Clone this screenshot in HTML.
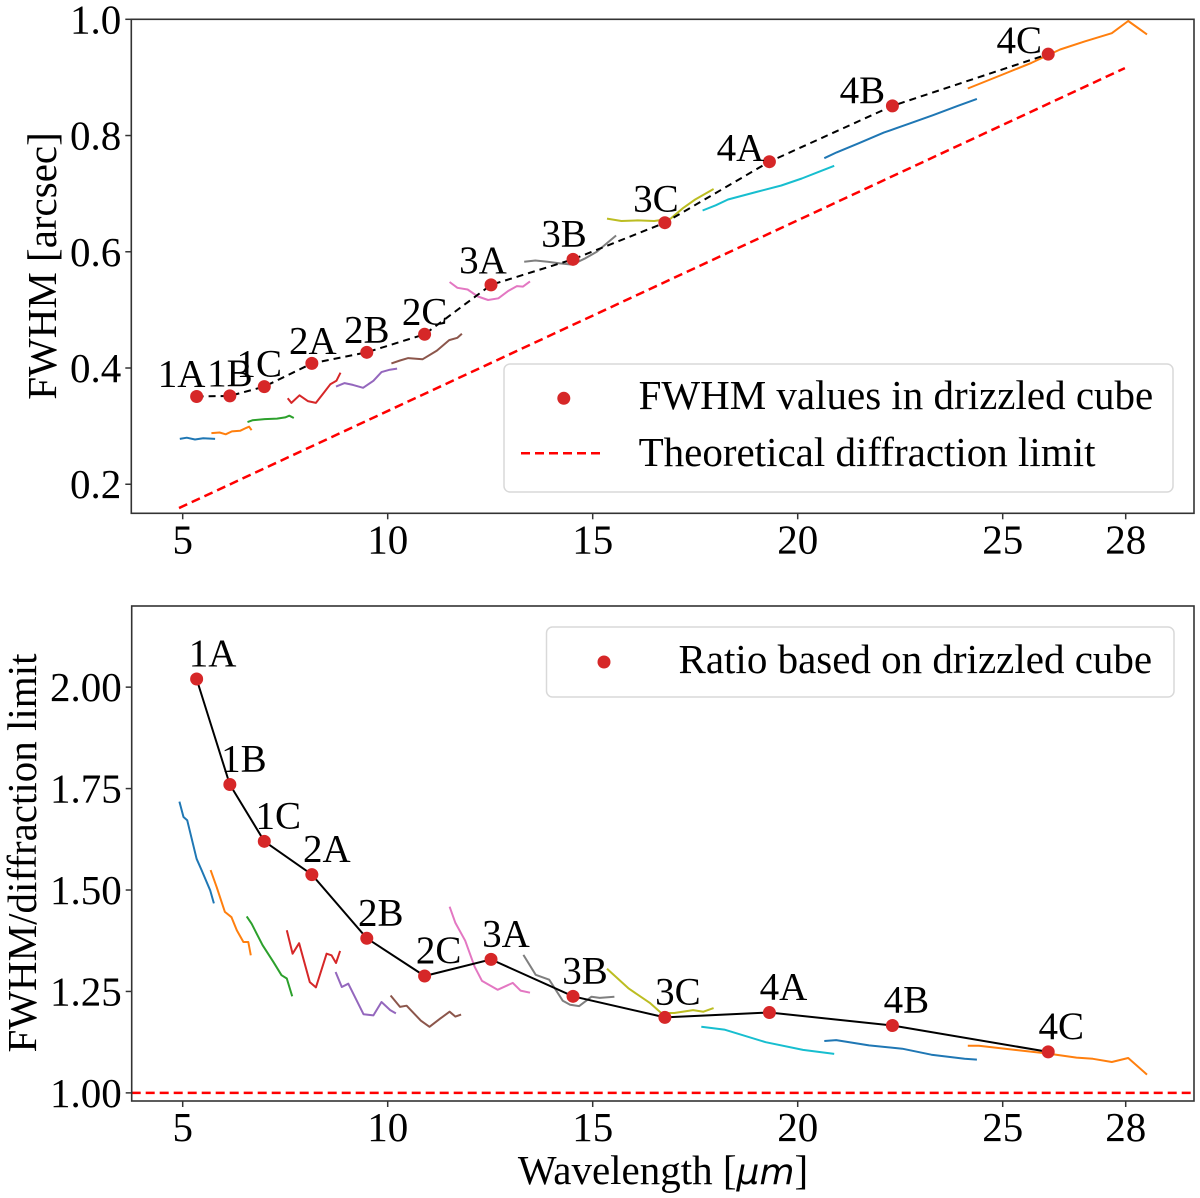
<!DOCTYPE html>
<html><head><meta charset="utf-8">
<style>
html,body{margin:0;padding:0;background:#fff;}
svg{display:block;font-family:"Liberation Serif","DejaVu Serif",serif;}
</style></head>
<body>
<svg id="chart" width="1200" height="1198" viewBox="0 0 1200 1198" xmlns="http://www.w3.org/2000/svg">
<g id="top"></g>
<g id="bot"></g>
</svg>
<script>
// ---- data ----
const channelNames = ["1A","1B","1C","2A","2B","2C","3A","3B","3C","4A","4B","4C"];
const channelWave = [5.34,6.15,6.99,8.15,9.49,10.90,12.52,14.52,16.76,19.31,22.31,26.11];
const fwhmValues = [0.351,0.352,0.368,0.408,0.427,0.458,0.543,0.587,0.650,0.755,0.851,0.940];
const ratioValues = [2.02,1.76,1.62,1.538,1.381,1.288,1.329,1.238,1.186,1.198,1.166,1.101];
const limitWave = [4.91,27.98];
const limitFwhm = [0.159,0.916];
const ratioLimit = [1.0];
const xTicks = [5,10,15,20,25,28];
const topYTicks = [0.2,0.4,0.6,0.8,1.0];
const topYTickLabels = ["0.2","0.4","0.6","0.8","1.0"];
const botYTicks = [1.0,1.25,1.5,1.75,2.0];
const botYTickLabels = ["1.00","1.25","1.50","1.75","2.00"];
const chanColors = ["#1f77b4","#ff7f0e","#2ca02c","#d62728","#9467bd","#8c564b","#e377c2","#7f7f7f","#bcbd22","#17becf","#1f77b4","#ff7f0e"];
const topCurveX = [
 [4.93,5.1,5.3,5.5,5.79],
 [5.70,5.9,6.05,6.2,6.4,6.55,6.62,6.68],
 [6.58,6.7,7.0,7.3,7.5,7.6,7.71],
 [7.56,7.65,7.85,8.05,8.25,8.45,8.6,8.75,8.85],
 [8.74,8.95,9.15,9.4,9.65,9.85,10.05,10.23],
 [10.09,10.3,10.5,10.85,11.2,11.5,11.7,11.81],
 [11.51,11.7,11.95,12.2,12.45,12.7,12.95,13.15,13.3,13.47],
 [13.33,13.6,13.9,14.2,14.5,14.8,15.1,15.35,15.57],
 [15.35,15.7,16.1,16.5,16.9,17.2,17.5,17.95],
 [17.68,18.0,18.3,19.0,19.6,20.1,20.5,20.89],
 [20.65,20.95,21.5,22.1,22.7,23.3,23.9,24.37],
 [24.15,25.0,25.7,26.4,27.0,27.66,28.06,28.52]
];
const topCurveY = [
 [0.278,0.280,0.277,0.279,0.278],
 [0.288,0.289,0.286,0.291,0.292,0.297,0.299,0.293],
 [0.307,0.310,0.312,0.313,0.315,0.318,0.314],
 [0.348,0.340,0.353,0.343,0.340,0.358,0.372,0.378,0.392],
 [0.368,0.374,0.371,0.366,0.378,0.393,0.397,0.399],
 [0.408,0.413,0.417,0.415,0.430,0.448,0.452,0.459],
 [0.548,0.538,0.535,0.523,0.517,0.520,0.533,0.541,0.540,0.549],
 [0.583,0.585,0.583,0.580,0.578,0.588,0.600,0.615,0.628],
 [0.657,0.653,0.654,0.653,0.657,0.675,0.690,0.708],
 [0.671,0.680,0.690,0.703,0.714,0.726,0.737,0.748],
 [0.761,0.771,0.787,0.805,0.820,0.835,0.851,0.863],
 [0.881,0.905,0.925,0.948,0.962,0.976,0.997,0.974]
];
const botCurveX = [
 [4.92,5.02,5.11,5.34,5.46,5.67,5.76],
 [5.68,5.83,6.03,6.19,6.32,6.48,6.60,6.66],
 [6.56,6.68,6.95,7.21,7.41,7.54,7.67],
 [7.54,7.68,7.84,8.10,8.25,8.51,8.63,8.74,8.84],
 [8.73,8.88,9.04,9.41,9.65,9.85,10.06,10.20],
 [10.07,10.30,10.46,10.81,11.02,11.28,11.51,11.65,11.79],
 [11.51,11.65,11.89,12.12,12.30,12.68,13.05,13.24,13.47],
 [13.31,13.61,13.94,14.27,14.45,14.67,14.97,15.17,15.53],
 [15.35,15.88,16.39,16.67,16.99,17.45,17.70,17.95],
 [17.65,18.21,19.22,20.13,20.89],
 [20.65,20.94,21.74,22.55,23.26,24.07,24.37],
 [24.15,24.42,26.09,26.80,27.2,27.66,28.06,28.52]
];
const botCurveY = [
 [1.718,1.680,1.672,1.577,1.549,1.499,1.467],
 [1.549,1.507,1.446,1.433,1.401,1.372,1.372,1.339],
 [1.435,1.417,1.364,1.323,1.290,1.282,1.238],
 [1.401,1.343,1.369,1.273,1.260,1.343,1.339,1.320,1.350],
 [1.298,1.261,1.269,1.194,1.191,1.224,1.204,1.196],
 [1.240,1.212,1.215,1.178,1.163,1.183,1.200,1.188,1.193],
 [1.459,1.419,1.375,1.311,1.276,1.254,1.271,1.252,1.247],
 [1.340,1.291,1.279,1.227,1.217,1.214,1.237,1.234,1.237],
 [1.306,1.257,1.222,1.197,1.197,1.204,1.200,1.209],
 [1.163,1.156,1.125,1.106,1.096],
 [1.128,1.130,1.117,1.109,1.094,1.084,1.082],
 [1.116,1.116,1.097,1.087,1.084,1.076,1.086,1.045]
];

// ---- layout ----
const NS = "http://www.w3.org/2000/svg";
function mk(parent, tag, attrs, text){
  const e = document.createElementNS(NS, tag);
  for (const k in attrs) e.setAttribute(k, attrs[k]);
  if (text !== undefined) e.textContent = text;
  parent.appendChild(e);
  return e;
}
const X0PX = 182.7, XPU = 41;
function xs(v){ return X0PX + (v - 5) * XPU; }
const topP = {g:document.getElementById('top'), left:131.3, right:1194, top:19.3, bottom:513.3, ymin:0.15, ymax:1.0};
const botP = {g:document.getElementById('bot'), left:131.7, right:1194, top:606, bottom:1101, ymin:0.98, ymax:2.2};
function ys(p, v){ return p.bottom - (v - p.ymin) / (p.ymax - p.ymin) * (p.bottom - p.top); }

function axes(p, yt, ytl, name){
  const g = p.g;
  const clipId = name + '-clip';
  const cp = mk(g, 'clipPath', {id: clipId});
  mk(cp, 'rect', {x:p.left, y:p.top, width:p.right-p.left, height:p.bottom-p.top});
  xTicks.forEach(t => {
    const x = xs(t);
    const tk = mk(g, 'line', {x1:x, x2:x, y1:p.bottom, y2:p.bottom+6, stroke:'#333', 'stroke-width':1.5});
    
    
    const lb = mk(g, 'text', {x:x, y:p.bottom+40, 'text-anchor':'middle', 'font-size':41, fill:'#000'}, String(t));
    
    
  });
  yt.forEach((t, i) => {
    const y = ys(p, t);
    const tk = mk(g, 'line', {x1:p.left-6, x2:p.left, y1:y, y2:y, stroke:'#333', 'stroke-width':1.5});
    
    
    const lb = mk(g, 'text', {x:p.left-10, y:y+14, 'text-anchor':'end', 'font-size':41, fill:'#000'}, ytl[i]);
    
    
  });
  return 'url(#' + clipId + ')';
}
function frame(p){
  const r = mk(p.g, 'rect', {x:p.left, y:p.top, width:p.right-p.left, height:p.bottom-p.top, fill:'none', stroke:'#333', 'stroke-width':1.6});
  
  
}
function curves(p, cx, cy, clip){
  const g = mk(p.g, 'g', {'clip-path':clip});
  cx.forEach((arr, i) => {
    const pts = arr.map((v, j) => xs(v).toFixed(1) + ',' + ys(p, cy[i][j]).toFixed(1)).join(' ');
    const pl = mk(g, 'polyline', {points:pts, fill:'none', stroke:chanColors[i], 'stroke-width':2, 'stroke-linejoin':'round'});
    
    
  });
}
function points(p, vals, lineDash, dxArr, dyArr, prefix){
  const pts = channelWave.map((w, i) => xs(w).toFixed(1) + ',' + ys(p, vals[i]).toFixed(1)).join(' ');
  const ln = mk(p.g, 'polyline', Object.assign({points:pts, fill:'none', stroke:'#000', 'stroke-width':2}, lineDash ? {'stroke-dasharray':lineDash} : {}));
  
  
  channelWave.forEach((w, i) => {
    const x = xs(w), y = ys(p, vals[i]);
    const c = mk(p.g, 'circle', {cx:x, cy:y, r:6.5, fill:'#d62728'});
    
    
    const t = mk(p.g, 'text', {x:x + dxArr[i], y:y + dyArr[i], 'text-anchor':'middle', 'font-size':39, fill:'#000'}, channelNames[i]);
    
    
  });
}

// ---- top panel ----
const clipT = axes(topP, topYTicks, topYTickLabels, 'top');
curves(topP, topCurveX, topCurveY, clipT);
const lim = mk(mk(topP.g, 'g', {'clip-path':clipT}), 'line', {x1:xs(limitWave[0]), y1:ys(topP, limitFwhm[0]), x2:xs(limitWave[1]), y2:ys(topP, limitFwhm[1]), stroke:'#ff0000', 'stroke-width':2.5, 'stroke-dasharray':'9,5'});


points(topP, fwhmValues, '7,5',
  [-15,0,-5,1,0,0,-8,-9,-9,-29,-30,-29],
  [-10,-10,-10,-10,-10,-10,-12,-13,-11,-1,-3,-1], 'fwhm');
frame(topP);
const lgT = mk(topP.g, 'g', {});


mk(lgT, 'rect', {x:504, y:364, width:669, height:128, rx:6, fill:'#fff', 'fill-opacity':0.85, stroke:'#d9d9d9', 'stroke-width':1.5});
const lm1 = mk(lgT, 'circle', {cx:563.8, cy:398.3, r:6.5, fill:'#d62728'});


const lt1 = mk(lgT, 'text', {x:638.6, y:409, 'font-size':41, fill:'#000'}, 'FWHM values in drizzled cube');


const lm2 = mk(lgT, 'line', {x1:521, x2:603.4, y1:453.3, y2:453.3, stroke:'#ff0000', 'stroke-width':2.5, 'stroke-dasharray':'9,5'});


const lt2 = mk(lgT, 'text', {x:638.6, y:466, 'font-size':41, fill:'#000'}, 'Theoretical diffraction limit');


const yT = mk(topP.g, 'text', {x:0, y:0, transform:'translate(56,266) rotate(-90)', 'text-anchor':'middle', 'font-size':41, fill:'#000'}, 'FWHM [arcsec]');



// ---- bottom panel ----
const clipB = axes(botP, botYTicks, botYTickLabels, 'bot');
curves(botP, botCurveX, botCurveY, clipB);
const ref = mk(mk(botP.g, 'g', {'clip-path':clipB}), 'line', {x1:botP.left, x2:botP.right, y1:ys(botP, ratioLimit[0]), y2:ys(botP, ratioLimit[0]), stroke:'#ff0000', 'stroke-width':2.5, 'stroke-dasharray':'9,5'});


points(botP, ratioValues, null,
  [16,14,14,15,14,14,15,12,13,14,14,13],
  [-13,-13,-13,-13,-13,-13,-13,-13,-13,-13,-13,-13], 'ratio');
frame(botP);
const lgB = mk(botP.g, 'g', {});


mk(lgB, 'rect', {x:546.5, y:627, width:627.5, height:70, rx:6, fill:'#fff', 'fill-opacity':0.85, stroke:'#d9d9d9', 'stroke-width':1.5});
const lm3 = mk(lgB, 'circle', {cx:604, cy:662, r:6.5, fill:'#d62728'});


const lt3 = mk(lgB, 'text', {x:678.5, y:673, 'font-size':41, fill:'#000'}, 'Ratio based on drizzled cube');


const yB = mk(botP.g, 'text', {x:0, y:0, transform:'translate(36,853) rotate(-90)', 'text-anchor':'middle', 'font-size':41, fill:'#000'}, 'FWHM/diffraction limit');


const xB = mk(botP.g, 'text', {x:663, y:1184, 'text-anchor':'middle', 'font-size':41, fill:'#000'});


mk(xB, 'tspan', {}, 'Wavelength [');
mk(xB, 'tspan', {'font-style':'italic', 'font-family':'"DejaVu Sans",sans-serif', 'font-size':36}, 'μm');
mk(xB, 'tspan', {}, ']');
</script>
</body></html>
